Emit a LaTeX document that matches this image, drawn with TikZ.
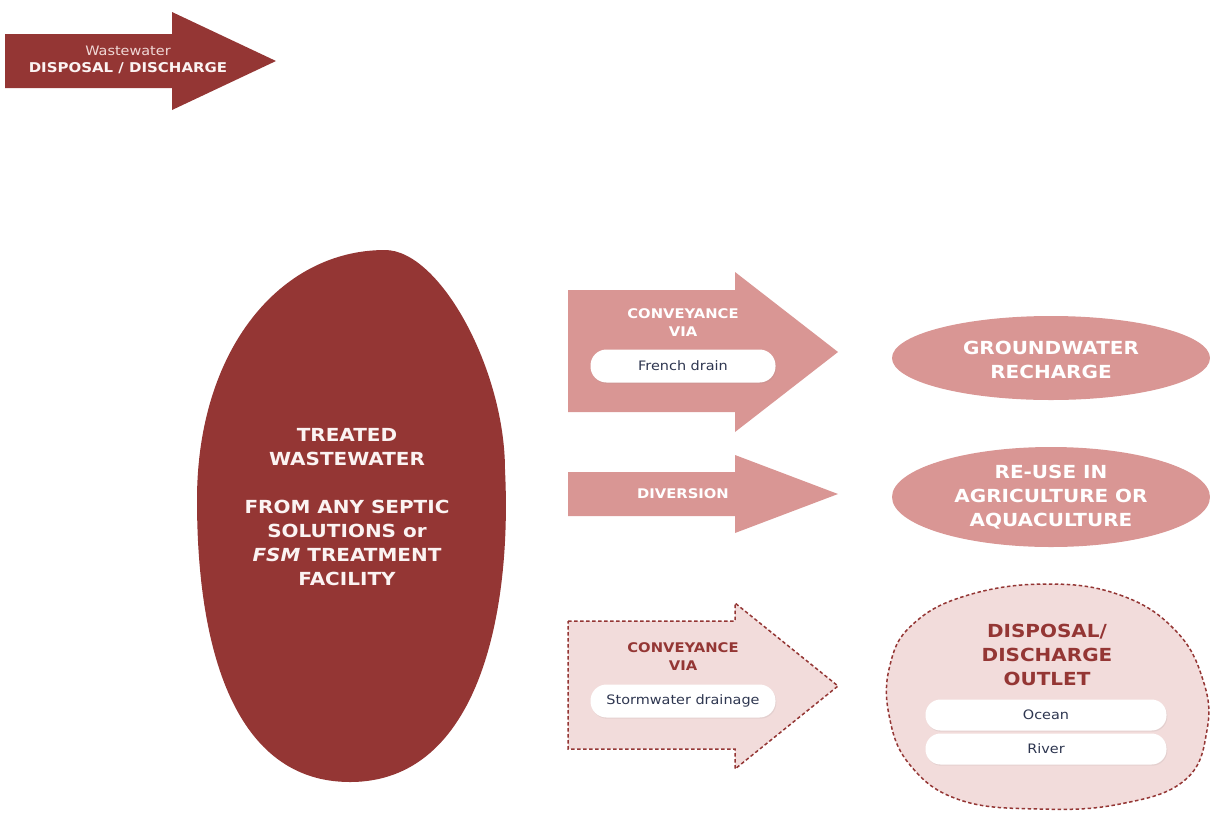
\documentclass[tikz,border=0pt]{standalone}
\usepackage{fontspec}
\setmainfont[FakeStretch=1.11]{DejaVu Sans}
\usetikzlibrary{shadows}
\definecolor{dred}{HTML}{943634}
\definecolor{mpink}{HTML}{D99694}
\definecolor{lpink}{HTML}{F2DCDB}
\definecolor{navy}{HTML}{2E3650}
\definecolor{wtxt}{HTML}{FBF3F2}
\definecolor{ltxt}{HTML}{F0D8D6}
\begin{document}
\begin{tikzpicture}[x=1pt,y=-1pt,
  pill/.style={fill=white, rounded corners=16pt, minimum width=185pt, minimum height=33pt, inner sep=0pt, text=navy, font=\fontsize{13}{15}\selectfont,
     drop shadow={shadow xshift=0.8pt, shadow yshift=-1.2pt, opacity=0.12}},
  smallpill/.style={pill, rounded corners=15pt, minimum width=241pt, minimum height=31pt},
  small/.style={font=\bfseries\fontsize{13.3}{18}\selectfont, align=center},
  big/.style={font=\bfseries\fontsize{18}{24}\selectfont, align=center},
  dashedge/.style={draw=dred, line width=1.5pt, dash pattern=on 3.5pt off 2.5pt}]
\useasboundingbox (0,0) rectangle (1210,812);
% top legend arrow
\fill[dred] (5,34) -- (172,34) -- (172,12) -- (276,61) -- (172,110) -- (172,88) -- (5,88) -- cycle;
\node[text=ltxt, font=\fontsize{13}{15}\selectfont] (legA) at (128,51) {Wastewater};
\node[text=wtxt, font=\bfseries\fontsize{13.5}{15}\selectfont] (legB) at (128,68) {DISPOSAL / DISCHARGE};
% big blob
\fill[dred] (385,250) .. controls (440,250) and (505,370) .. (505,470)
  .. controls (512,610) and (480,782) .. (350,782)
  .. controls (235,782) and (197,650) .. (197,500)
  .. controls (197,350) and (280,250) .. (385,250) -- cycle;
\node[big, text=wtxt] (src) at (347,507) {TREATED\\WASTEWATER\\[24pt]FROM ANY SEPTIC\\SOLUTIONS or\\\textit{FSM} TREATMENT\\FACILITY};
% arrow 1
\fill[mpink] (568,290) -- (735,290) -- (735,272) -- (838,352) -- (735,432) -- (735,412) -- (568,412) -- cycle;
\node[small, text=white] (conv1) at (683,323) {CONVEYANCE\\VIA};
\node[pill] (french) at (683,366) {French drain};
% ellipse 1
\fill[mpink] (1051,358) ellipse [x radius=159, y radius=42];
\node[big, text=white] (gw) at (1051,360) {GROUNDWATER\\RECHARGE};
% arrow 2
\fill[mpink] (568,472) -- (735,472) -- (735,455) -- (838,494) -- (735,533) -- (735,516) -- (568,516) -- cycle;
\node[small, text=white] (div) at (683,494) {DIVERSION};
% ellipse 2
\fill[mpink] (1051,497) ellipse [x radius=159, y radius=50];
\node[big, text=white] (reuse) at (1051,497) {RE-USE IN\\AGRICULTURE OR\\AQUACULTURE};
% arrow 3 (dashed)
\filldraw[fill=lpink, dashedge] (568,621) -- (735,621) -- (735,603) -- (838,686) -- (735,769) -- (735,749) -- (568,749) -- cycle;
\node[small, text=dred] (conv3) at (683,657) {CONVEYANCE\\VIA};
\node[pill] (storm) at (683,701) {Stormwater drainage};
% dashed outlet blob
\filldraw[fill=lpink, dashedge] plot[smooth cycle, tension=0.7] coordinates {
 (1045,584) (1120,595) (1175,630) (1203,680) (1207,730) (1185,780) (1120,804)
 (1040,809) (960,800) (910,765) (889,715) (890,665) (912,625) (965,596)};
\node[big, text=dred] (outlet) at (1047,655) {DISPOSAL/\\DISCHARGE\\OUTLET};
\node[smallpill] (ocean) at (1046,715) {Ocean};
\node[smallpill] (river) at (1046,749) {River};
\end{tikzpicture}
\end{document}
